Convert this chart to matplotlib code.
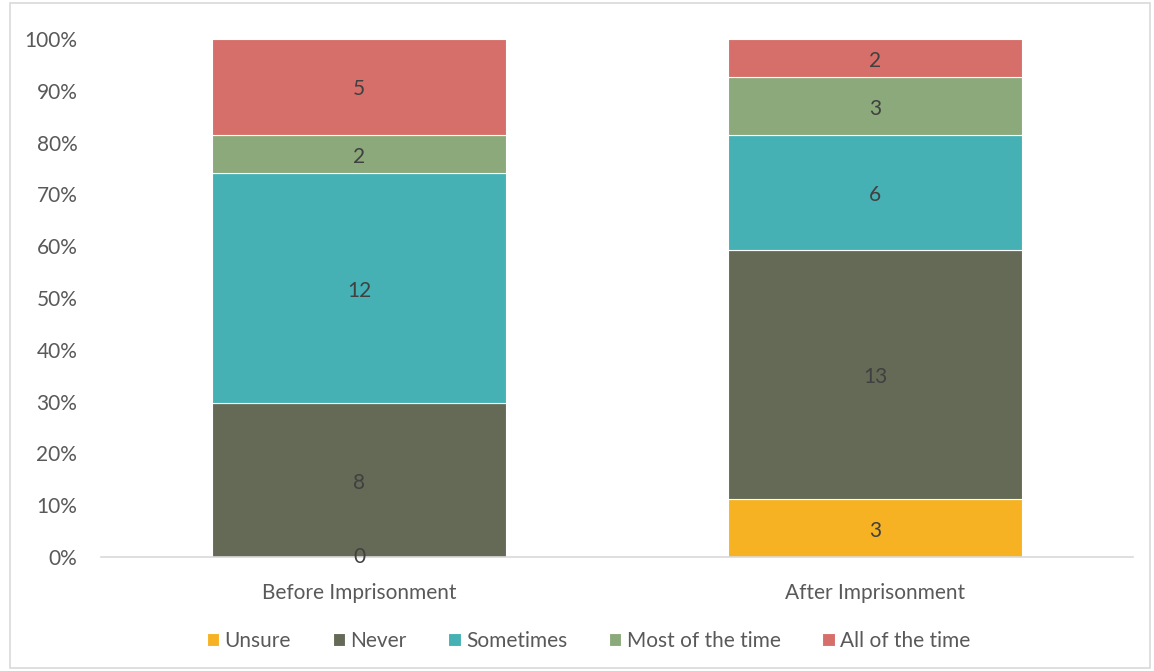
import matplotlib
matplotlib.use("Agg")
import matplotlib.pyplot as plt
import numpy as np
from matplotlib.patches import Rectangle

plt.rcParams['font.family'] = ['Lato', 'DejaVu Sans']

categories = ["Before Imprisonment", "After Imprisonment"]
series_names = ["Unsure", "Never", "Sometimes", "Most of the time", "All of the time"]
unsure = [0, 3]
never = [8, 13]
sometimes = [12, 6]
most = [2, 3]
all_time = [5, 2]
colors = ["#F6B223", "#656A56", "#46B1B5", "#8CA97B", "#D66F69"]
yticks = [0, 10, 20, 30, 40, 50, 60, 70, 80, 90, 100]

series = [unsure, never, sometimes, most, all_time]
data = np.array(series, dtype=float)
totals = data.sum(axis=0)
pct = data / totals * 100

fig = plt.figure(figsize=(11.54, 6.71), dpi=100)
ax = fig.add_axes([0.0875, 0.170, 0.8943, 0.772])

x = np.arange(len(categories))
bottom = np.zeros(len(categories))
text_color = "#595959"
fs = 15
for i, name in enumerate(series_names):
    ax.bar(x, pct[i], 0.57, bottom=bottom, color=colors[i], edgecolor="white",
           linewidth=0.8, label=name)
    for j in range(len(categories)):
        if data[i, j] == 0 and i == 0:
            ax.text(x[j], bottom[j], f"{int(data[i, j])}", ha="center", va="center",
                    fontsize=fs, color="#404040")
        elif data[i, j] > 0:
            ax.text(x[j], bottom[j] + pct[i, j] / 2 - 0.5, f"{int(data[i, j])}",
                    ha="center", va="center", fontsize=fs, color="#404040")
    bottom += pct[i]

ax.set_xlim(-0.5, 1.5)
ax.set_ylim(0, 100)
ax.set_yticks(yticks)
ax.set_yticklabels([f"{t}%" for t in yticks])
ax.set_xticks(x)
ax.set_xticklabels(categories)
ax.tick_params(axis="both", length=0, labelsize=fs, colors=text_color)
ax.tick_params(axis="y", pad=17)
ax.tick_params(axis="x", pad=19)
for s in ["top", "right", "left"]:
    ax.spines[s].set_visible(False)
ax.spines["bottom"].set_color("#D9D9D9")
ax.spines["bottom"].set_linewidth(1.2)

leg = fig.legend(loc="center", bbox_to_anchor=(0.51, 0.045), ncol=5, frameon=False,
                 fontsize=fs, handlelength=0.6, handleheight=0.6, handletextpad=0.25,
                 columnspacing=2.0)
for t in leg.get_texts():
    t.set_color(text_color)

fig.patches.append(Rectangle((10 / 1154, 3 / 671), 1140 / 1154, 665 / 671,
                             transform=fig.transFigure, fill=False,
                             edgecolor="#D9D9D9", linewidth=1.2))

fig.savefig("out.png", dpi=100)
